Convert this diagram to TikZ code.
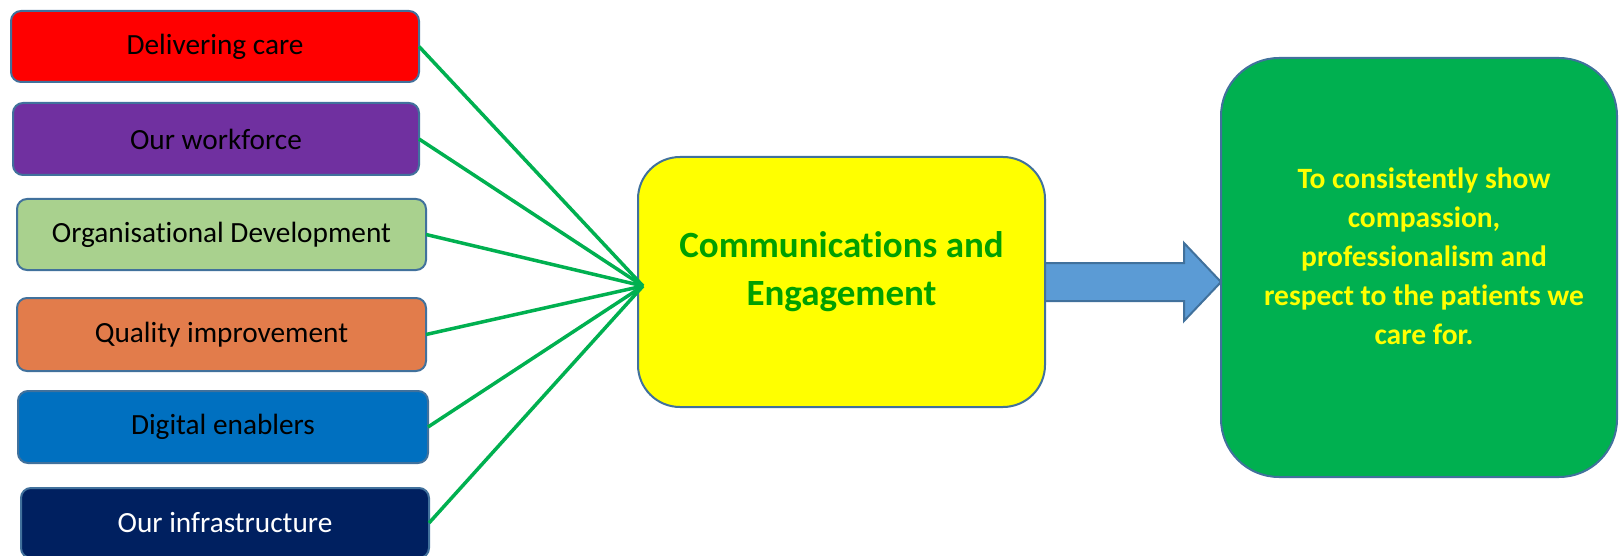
\documentclass[tikz,border=0pt]{standalone}
\usepackage{fontspec}
\setmainfont[Ligatures=NoCommon]{Carlito}
\usetikzlibrary{calc}

\definecolor{edgeblue}{HTML}{41719C}
\definecolor{cRed}{HTML}{FF0000}
\definecolor{cPurple}{HTML}{7030A0}
\definecolor{cLime}{HTML}{A9D18E}
\definecolor{cOrange}{HTML}{E27C4B}
\definecolor{cBlue}{HTML}{0070C0}
\definecolor{cNavy}{HTML}{002060}
\definecolor{cYellow}{HTML}{FFFF00}
\definecolor{cGreen}{HTML}{00B050}
\definecolor{cTextGreen}{HTML}{00A000}
\definecolor{cArrow}{HTML}{5B9BD5}

\begin{document}
\begin{tikzpicture}[x=1pt,y=-1pt,
  topic/.style={draw=edgeblue, line width=2pt, rounded corners=10pt,
    inner sep=0pt, outer sep=0pt, text=black,
    font=\fontsize{29.3}{35}\selectfont},
  hubbox/.style={draw=edgeblue, line width=2pt, rounded corners=42pt,
    fill=cYellow, inner sep=0pt, outer sep=0pt,
    minimum width=407pt, minimum height=250pt},
  goalbox/.style={draw=edgeblue, line width=2pt, rounded corners=58pt,
    fill=cGreen, inner sep=0pt, outer sep=0pt,
    minimum width=396pt, minimum height=419pt},
  hubtext/.style={align=center, text=cTextGreen, inner sep=0pt,
    font=\fontsize{37}{48}\selectfont\bfseries},
  goaltext/.style={align=center, text=cYellow, inner sep=0pt,
    font=\fontsize{29.5}{39}\selectfont\bfseries},
  link/.style={draw=cGreen, line width=3.5pt},
  bigarrow/.style={draw=edgeblue, line width=2pt, fill=cArrow, line join=miter}]

\useasboundingbox (0,0) rectangle (1619,556);

% left-hand themes
\node[topic, fill=cRed,    minimum width=408pt, minimum height=71pt] (t1) at (215,46.5) {Delivering care};
\node[topic, fill=cPurple, minimum width=406pt, minimum height=72pt] (t2) at (216,139) {Our workforce};
\node[topic, fill=cLime,   minimum width=409pt, minimum height=71pt] (t3) at (221.5,234.5) {Organisational Development};
\node[topic, fill=cOrange, minimum width=409pt, minimum height=73pt] (t4) at (221.5,334.5) {Quality improvement};
\node[topic, fill=cBlue,   minimum width=410pt, minimum height=72pt] (t5) at (223,427) {Digital enablers};
\node[topic, fill=cNavy,   minimum width=408pt, minimum height=70pt, text=white] (t6) at (225,523) {Our infrastructure};

% central hub
\node[hubbox] (ce) at (841.5,282) {};
\node[hubtext] (cetext) at (841.5,272) {Communications and\\Engagement};

% outcome
\node[goalbox] (goal) at (1419,267.5) {};
\node[goaltext] (goaltext) at (1424,256) {To consistently show\\compassion,\\professionalism and\\respect to the patients we\\care for.};

% block arrow from hub to outcome
\coordinate (tip) at (goal.west |- ce.east);
\draw[bigarrow] ($(ce.east)+(0,-19)$) -- ($(tip)+(-37,-19)$) -- ($(tip)+(-37,-39)$)
  -- (tip) -- ($(tip)+(-37,39)$) -- ($(tip)+(-37,19)$) -- ($(ce.east)+(0,19)$) -- cycle;

% converging links
\coordinate (hub) at (643,286);
\foreach \t in {t1,t2,t3,t4,t5,t6}
  \draw[link] (\t.east) -- (hub);

\end{tikzpicture}
\end{document}
